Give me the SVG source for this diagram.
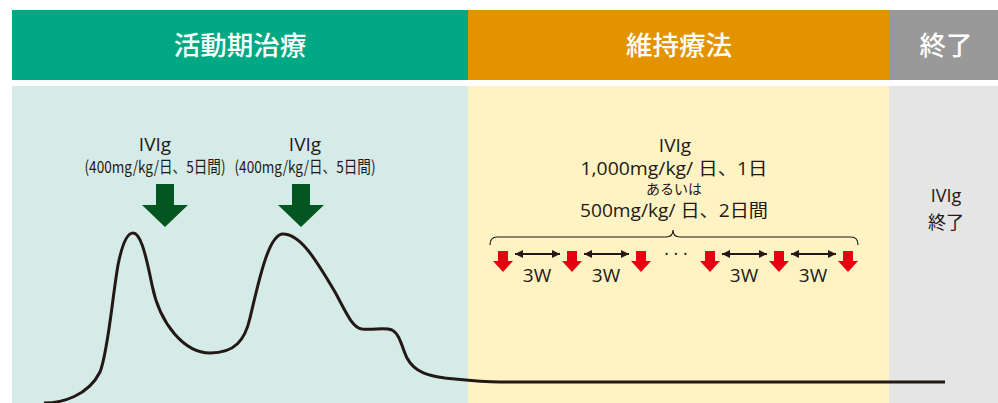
<svg xmlns="http://www.w3.org/2000/svg" width="998" height="403" viewBox="0 0 998 403">
<defs>
<style>
.t{font-family:"Open Sans","Noto Sans CJK JP",sans-serif;fill:#231815;text-anchor:middle}
.c{font-family:"Noto Sans CJK JP","Open Sans",sans-serif;fill:#231815;text-anchor:middle}
.h{font-family:"Noto Sans CJK JP","Noto Sans",sans-serif;fill:#fff;text-anchor:middle;font-size:26.5px;font-weight:500}
.red{fill:#E60012}
.grn{fill:#03561F}
.dbl{stroke:#231815;stroke-width:2;fill:none;marker-start:url(#ah);marker-end:url(#ah)}
</style>
<marker id="ah" viewBox="0 0 10 10" refX="10" refY="5" markerWidth="8" markerHeight="8" markerUnits="userSpaceOnUse" orient="auto-start-reverse">
<path d="M0,0 L10,5 L0,10 Z" fill="#231815"/>
</marker>
<polygon id="ra" class="red" points="-5,251 5,251 5,261 10,261 0,272 -10,261 -5,261"/>
<polygon id="ga" class="grn" points="-9,184 9,184 9,205 23,205 0,227 -23,205 -9,205"/>
</defs>
<rect width="998" height="403" fill="#fff"/>
<g id="panels">
<rect x="12" y="86" width="456" height="317" fill="#D5EBE7"/>
<rect x="468" y="86" width="421" height="317" fill="#FFF3C4"/>
<rect x="889" y="86" width="109" height="317" fill="#E5E5E5"/>
</g>
<g id="header-active">
<rect x="12" y="10" width="456" height="70" fill="#00A984"/>
<text class="h" x="240" y="55">活動期治療</text>
</g>
<g id="header-maintenance">
<rect x="468" y="10" width="421" height="70" fill="#E39300"/>
<text class="h" x="679" y="55">維持療法</text>
</g>
<g id="header-end">
<rect x="889" y="10" width="109" height="70" fill="#999999"/>
<text class="h" x="946" y="55">終了</text>
</g>
<g id="curve">
<path d="M44,403 C62,403 88,396 100,372 C108,352 112,300 118,265 C123,240 128,233 133,233 C140,233 145,250 152,285 C160,325 185,353 210,353 C235,353 245,340 250,318 C258,285 268,234 283,234 C300,234 315,258 335,292 C345,310 352,328 362,329 C375,330 385,327 392,330 C400,334 402,348 407,358 C415,373 430,376 445,378 C465,380 480,382 500,382 L945,382" fill="none" stroke="#231815" stroke-width="3"/>
</g>
<g id="ivig1">
<text class="t" x="155" y="151" font-size="19">IVIg</text>
<text class="c" x="155" y="173" font-size="16.5" textLength="141" lengthAdjust="spacingAndGlyphs">(400mg/kg/日、5日間)</text>
<use href="#ga" x="165"/>
</g>
<g id="ivig2">
<text class="t" x="305" y="151" font-size="19">IVIg</text>
<text class="c" x="305" y="173" font-size="16.5" textLength="141" lengthAdjust="spacingAndGlyphs">(400mg/kg/日、5日間)</text>
<use href="#ga" x="301"/>
</g>
<g id="ivig-maint">
<text class="t" x="675" y="152" font-size="19">IVIg</text>
<text class="t" x="674" y="175" font-size="18" textLength="187" lengthAdjust="spacingAndGlyphs">1,000mg/kg/ 日、1日</text>
<text class="c" x="674" y="194" font-size="14">あるいは</text>
<text class="t" x="674" y="217" font-size="18" textLength="188" lengthAdjust="spacingAndGlyphs">500mg/kg/ 日、2日間</text>
<path d="M490,245 C490,240 492,237 497,237 L666,237 C671,237 673,234 673,230 C673,234 675,237 680,237 L851,237 C856,237 858,240 858,245" fill="none" stroke="#231815" stroke-width="1.2"/>
</g>
<g id="doses">
<use href="#ra" x="503"/>
<use href="#ra" x="572"/>
<use href="#ra" x="641"/>
<use href="#ra" x="710"/>
<use href="#ra" x="779"/>
<use href="#ra" x="848"/>
<text class="t" x="676" y="260" font-size="18">· · ·</text>
</g>
<g id="connectors">
<line class="dbl" x1="515" y1="254" x2="560" y2="254"/>
<line class="dbl" x1="584" y1="254" x2="629" y2="254"/>
<line class="dbl" x1="722" y1="254" x2="767" y2="254"/>
<line class="dbl" x1="791" y1="254" x2="836" y2="254"/>
</g>
<g id="intervals">
<text class="t" x="537" y="282" font-size="19">3W</text>
<text class="t" x="606" y="282" font-size="19">3W</text>
<text class="t" x="744" y="282" font-size="19">3W</text>
<text class="t" x="813" y="282" font-size="19">3W</text>
</g>
<g id="ivig-end">
<text class="t" x="946" y="202" font-size="18">IVIg</text>
<text class="c" x="946" y="229" font-size="18">終了</text>
</g>
</svg>
